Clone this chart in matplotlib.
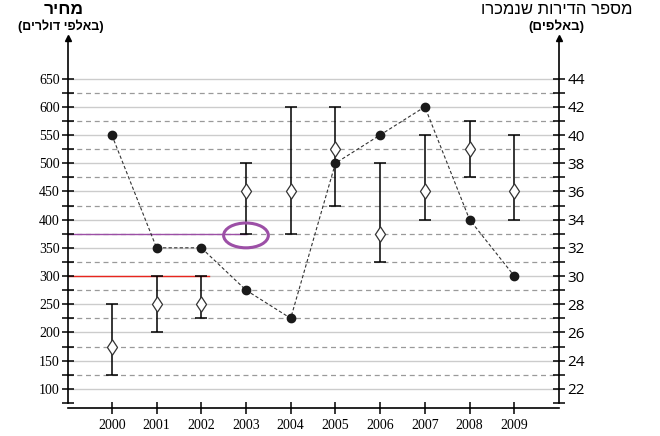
import numpy as np
import matplotlib.pyplot as plt
from matplotlib.patches import Ellipse

"""
Data
"""
years = [2000, 2001, 2002, 2003, 2004, 2005, 2006, 2007, 2008, 2009]
# price in thousands of dollars (left axis)
price = [175, 250, 250, 450, 450, 525, 375, 450, 525, 450]
price_low = [125, 200, 225, 375, 375, 425, 325, 400, 475, 400]
price_high = [250, 300, 300, 500, 600, 600, 500, 550, 575, 550]
# apartments sold in thousands (right axis)
sold = [40, 32, 32, 29, 27, 38, 40, 42, 34, 30]

left_major = list(range(100, 651, 50))
left_minor = list(range(75, 626, 50))
right_major = list(range(22, 45, 2))
right_minor = list(range(21, 44, 2))

title_left = "מחיר"
sub_left = "(באלפי דולרים)"
title_right = "מספר הדירות שנמכרו"
sub_right = "(באלפים)"

red_level = 300
purple_level = 375


def rtl(s):
    # matplotlib has no bidi, flip for display
    swap = {"(": ")", ")": "("}
    return "".join(swap.get(c, c) for c in s[::-1])


def to_right(v):
    return 22 + (v - 100) / 25


# slightly wider diamond than the built-in 'd'
diamond = [(0, 1), (0.66, 0), (0, -1), (-0.66, 0), (0, 1)]

"""
Figure
"""
fig = plt.figure(figsize=(6.6, 4.36), dpi=100)
ax = fig.add_axes([68 / 660, 1 - 408 / 436, (559 - 68) / 660, (408 - 38) / 436])
ax2 = ax.twinx()

ylo, yhi = 66, 722
ax.set_ylim(ylo, yhi)
ax2.set_ylim(to_right(ylo), to_right(yhi))
ax.set_xlim(1999.02, 2010.0)

# grid
for v in left_major:
    ax.axhline(v, color="#cccccc", lw=1.0, zorder=0)
for v in left_minor[1:]:
    ax.axhline(v, color="#9a9a9a", lw=0.9, ls=(0, (4, 3)), zorder=0)

# highlight lines
ax.plot([1999.02, 2002.17], [red_level, red_level], color="#e8261e", lw=1.0, zorder=1)
ax.plot([1999.02, 2003.0], [purple_level, purple_level], color="#9c4fa6", lw=1.0, zorder=1)

# price with ranges
err = [np.array(price) - np.array(price_low), np.array(price_high) - np.array(price)]
ax.errorbar(years, price, yerr=err, fmt="none", ecolor="black", elinewidth=1.1,
            capsize=4.5, capthick=1.1, zorder=3)
ax.plot(years, price, marker=diamond, ms=11, mfc="white", mec="#333333", mew=0.9,
        zorder=4, ls="none")

# apartments sold
ax2.plot(years, sold, color="#333333", lw=0.8, ls=(0, (3, 2)), zorder=2)
ax2.plot(years, sold, "o", color="#1a1a1a", ms=6, zorder=5, ls="none")

ell = Ellipse((2003.0, 372), 1.0, 44, fill=False, edgecolor="#9c4fa6", lw=2.2, zorder=6)
ax.add_patch(ell)

# spines
for a in (ax, ax2):
    a.spines["top"].set_visible(False)
ax.spines["right"].set_visible(False)
ax2.spines["left"].set_visible(False)
ax2.spines["bottom"].set_visible(False)
ax.spines["left"].set_bounds(75, yhi)
ax2.spines["right"].set_bounds(21, to_right(yhi))
ax.spines["bottom"].set_linewidth(1.2)
ax.spines["left"].set_linewidth(1.2)
ax2.spines["right"].set_linewidth(1.2)
ax.plot([0], [1], "^k", ms=5, transform=ax.transAxes, clip_on=False)
ax2.plot([1], [1], "^k", ms=5, transform=ax2.transAxes, clip_on=False)

# ticks
ax.set_xticks(years)
ax.set_xticklabels([str(y) for y in years], family="Liberation Serif", fontsize=10)
ax.tick_params(axis="x", direction="inout", length=8, width=1.1, pad=4)
ax.set_yticks(left_major)
ax.set_yticks(left_minor, minor=True)
ax.set_yticklabels([str(v) for v in left_major], family="Liberation Serif", fontsize=10)
ax.tick_params(axis="y", which="both", direction="inout", length=8, width=1.1, pad=2)

ax2.set_yticks(right_major)
ax2.set_yticks(right_minor, minor=True)
ax2.set_yticklabels([str(v) for v in right_major], family=["Open Sans", "DejaVu Sans"], fontsize=11)
ax2.tick_params(axis="y", which="both", direction="inout", length=8, width=1.1, pad=2)

# titles
heb = ["Liberation Sans", "DejaVu Sans"]
fig.text(64 / 660, 1 - 9 / 436, rtl(title_left), ha="center", va="center",
         family=heb, fontsize=12.5, fontweight="bold")
fig.text(61 / 660, 1 - 26 / 436, rtl(sub_left), ha="center", va="center",
         family=heb, fontsize=9, fontweight="bold")
fig.text(557 / 660, 1 - 10 / 436, rtl(title_right), ha="center", va="center",
         family=heb, fontsize=12)
fig.text(556 / 660, 1 - 26 / 436, rtl(sub_right), ha="center", va="center",
         family=heb, fontsize=9.5, fontweight="bold")

fig.savefig("out.png", dpi=100)
